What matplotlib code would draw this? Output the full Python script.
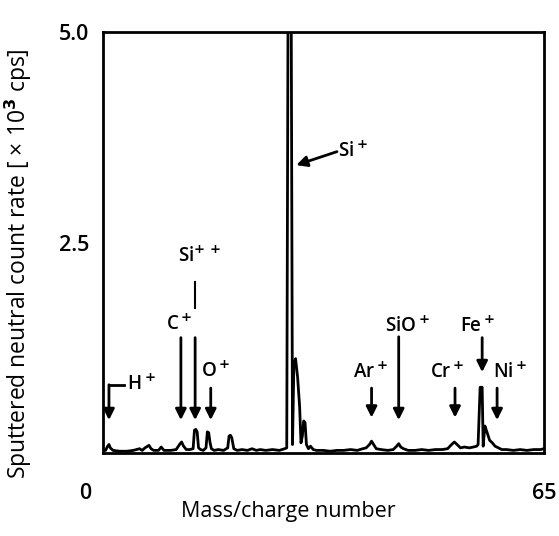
import matplotlib
matplotlib.use("Agg")
import matplotlib.pyplot as plt
import matplotlib.transforms as mtransforms

plt.rcParams['font.family'] = ['Open Sans', 'DejaVu Sans']
plt.rcParams['font.weight'] = 'semibold'
plt.rcParams['mathtext.fontset'] = 'dejavusans'

# spectrum (mass/charge, x10^3 cps)
mass = [0.0, 0.4, 0.7, 0.9, 1.1, 1.5, 2.5, 3.5, 4.5, 5.4,
        5.8, 6.2, 6.8, 7.1, 7.5, 8.2, 8.6, 9.0, 10.0, 10.8,
        11.3, 11.6, 11.9, 12.3, 12.8, 13.3, 13.5, 13.7, 13.9, 14.1,
        14.4, 14.8, 15.2, 15.4, 15.6, 15.8, 16.0, 16.4, 17.0, 17.8,
        18.4, 18.6, 18.8, 19.0, 19.3, 19.8, 20.5, 21.3, 22.0, 22.6,
        23.2, 24.0, 25.0, 26.0, 26.8, 27.1, 27.3, 27.75, 27.95, 28.15,
        28.4, 28.7, 29.0, 29.2, 29.4, 29.6, 29.8, 30.0, 30.3, 30.6,
        31.0, 31.5, 32.5, 33.5, 34.5, 35.5, 36.5, 37.5, 38.3, 38.8,
        39.3, 39.6, 39.9, 40.3, 41.0, 42.0, 42.8, 43.3, 43.6, 43.9,
        44.3, 45.0, 46.0, 47.0, 48.0, 49.0, 50.0, 50.8, 51.4, 51.8,
        52.2, 52.7, 53.3, 54.0, 54.6, 55.1, 55.3, 55.6, 55.9, 56.05,
        56.3, 56.6, 57.0, 57.4, 57.8, 58.3, 58.8, 59.5, 60.5, 61.5,
        62.5, 63.5, 64.5, 65.0]
counts = [0.03, 0.03, 0.08, 0.10, 0.06, 0.03, 0.02, 0.02, 0.03, 0.05,
          0.03, 0.06, 0.09, 0.05, 0.03, 0.03, 0.07, 0.03, 0.03, 0.04,
          0.10, 0.13, 0.08, 0.04, 0.04, 0.05, 0.27, 0.28, 0.25, 0.06,
          0.04, 0.03, 0.06, 0.25, 0.24, 0.12, 0.05, 0.03, 0.04, 0.03,
          0.06, 0.20, 0.21, 0.18, 0.05, 0.03, 0.04, 0.03, 0.05, 0.03,
          0.04, 0.03, 0.04, 0.03, 0.05, 0.06, 5.5, 5.5, 0.10, 1.05,
          1.12, 0.90, 0.55, 0.12, 0.20, 0.38, 0.36, 0.10, 0.05, 0.08,
          0.04, 0.03, 0.03, 0.02, 0.03, 0.03, 0.04, 0.03, 0.05, 0.06,
          0.10, 0.14, 0.10, 0.05, 0.04, 0.03, 0.04, 0.08, 0.11, 0.07,
          0.05, 0.03, 0.03, 0.04, 0.03, 0.04, 0.04, 0.05, 0.10, 0.13,
          0.10, 0.06, 0.07, 0.06, 0.07, 0.08, 0.10, 0.78, 0.78, 0.08,
          0.32, 0.25, 0.15, 0.12, 0.08, 0.06, 0.04, 0.04, 0.03, 0.04,
          0.03, 0.04, 0.04, 0.05]

# peak labels: text, arrow x, arrow tail y, arrow tip y, label x, label y
ions = ["C$^+$", "O$^+$", "Ar$^+$", "SiO$^+$", "Cr$^+$", "Fe$^+$", "Ni$^+$"]
ion_x = [11.5, 15.9, 39.6, 43.6, 51.9, 55.9, 58.1]
ion_tail = [1.37, 0.77, 0.77, 1.38, 0.77, 1.37, 0.77]
ion_tip = [0.39, 0.39, 0.42, 0.39, 0.42, 0.96, 0.39]
ion_lx = [11.3, 16.6, 39.4, 44.9, 50.8, 55.3, 60.1]
ion_ly = [1.52, 0.96, 0.95, 1.50, 0.95, 1.50, 0.95]

fig = plt.figure(figsize=(5.59, 5.36), dpi=100)
ax = fig.add_axes([0.184, 0.155, 0.789, 0.785])

ax.plot(mass, counts, color='k', lw=2.0)
ax.set_xlim(0, 65)
ax.set_ylim(0, 5.0)

for s in ax.spines.values():
    s.set_linewidth(2.0)

ax.set_yticks([2.5, 5.0])
ax.set_yticklabels(["2.5", "5.0"])
ax.set_xticks([0, 65])
ax.set_xticklabels(["0", "65"])
ax.tick_params(axis='y', length=0, pad=10, labelsize=15.5)
ax.tick_params(axis='x', length=0, pad=22, labelsize=15.5)
zero = ax.get_xticklabels()[0]
zero.set_transform(zero.get_transform() + mtransforms.ScaledTranslation(-0.18, 0, fig.dpi_scale_trans))

ax.set_xlabel("Mass/charge number", fontsize=15.5)
ax.xaxis.set_label_coords(0.42, -0.115)
ax.set_ylabel("Sputtered neutral count rate [ × 10$^3$ cps]", fontsize=16.5)
ax.yaxis.set_label_coords(-0.155, 0.45)

arrow = dict(arrowstyle='-|>', lw=2.0, color='k', mutation_scale=16, shrinkA=0, shrinkB=0)

for name, x, t0, t1, lx, ly in zip(ions, ion_x, ion_tail, ion_tip, ion_lx, ion_ly):
    ax.annotate("", xy=(x, t1), xytext=(x, t0), arrowprops=arrow)
    ax.text(lx, ly, name, fontsize=13.5, ha='center', va='center')

# Si++ with its short tick and arrow
ax.annotate("", xy=(13.6, 0.39), xytext=(13.6, 1.37), arrowprops=arrow)
ax.plot([13.6, 13.6], [1.72, 2.03], color='k', lw=1.5)
ax.text(11.1, 2.33, "Si$^{+\\,+}$", fontsize=13.5, ha='left', va='center')

# H+ bent arrow
ax.plot([3.1, 0.9], [0.81, 0.81], color='k', lw=2.0)
ax.annotate("", xy=(0.9, 0.39), xytext=(0.9, 0.81), arrowprops=arrow)
ax.text(3.6, 0.81, "H$^+$", fontsize=13.5, ha='left', va='center')

# Si+ slanted arrow
ax.annotate("", xy=(28.5, 3.42), xytext=(34.5, 3.58), arrowprops=arrow)
ax.text(34.7, 3.58, "Si$^+$", fontsize=13.5, ha='left', va='center')

fig.savefig("out.png", dpi=100)
